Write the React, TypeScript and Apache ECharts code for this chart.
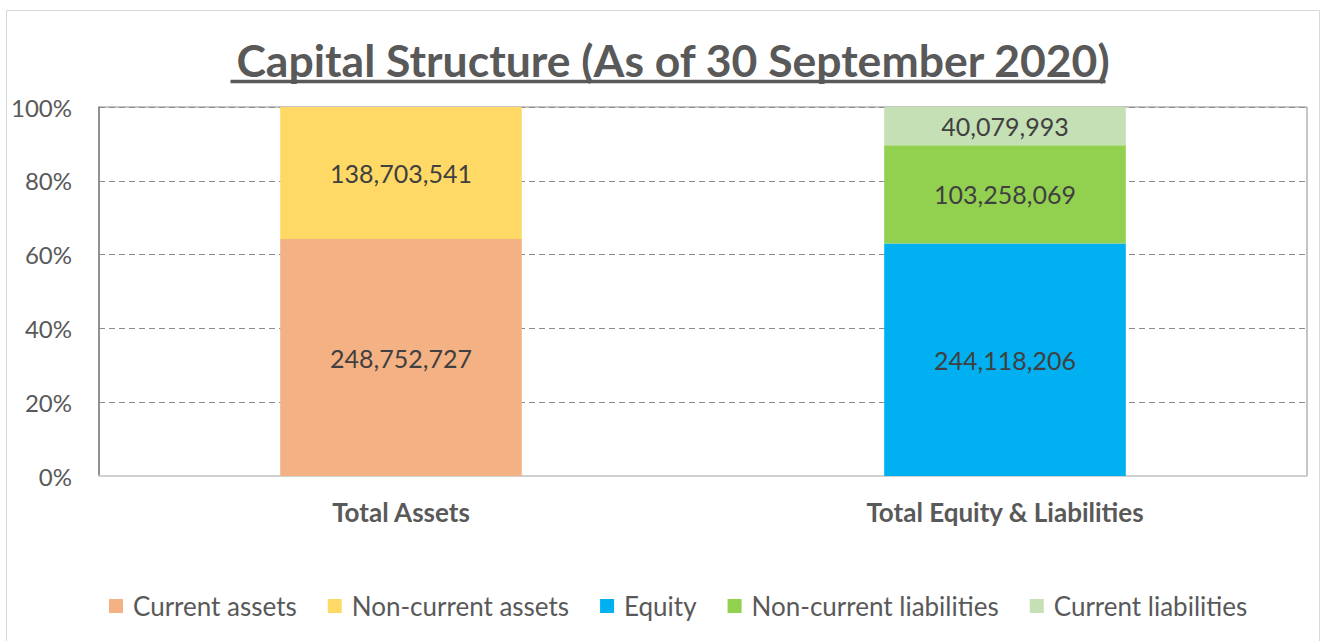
import React, { useEffect, useRef } from "react";
import * as echarts from "echarts";

const categories = ["Total Assets", "Total Equity & Liabilities"];
const seriesNames = [
  "Current assets",
  "Non-current assets",
  "Equity",
  "Non-current liabilities",
  "Current liabilities",
];
// raw values per series: [Total Assets, Total Equity & Liabilities]
const currentAssets = [248752727, null];
const nonCurrentAssets = [138703541, null];
const equity = [null, 244118206];
const nonCurrentLiabilities = [null, 103258069];
const currentLiabilities = [null, 40079993];
const yTicks = [0, 20, 40, 60, 80, 100];
const colors = ["#F4B183", "#FFD966", "#00B0F0", "#92D050", "#C5E0B4"];

const titleText = "Capital Structure (As of 30 September 2020)";
const FONT = "Lato, 'Open Sans', sans-serif";

export default function App() {
  const ref = useRef<HTMLDivElement>(null);
  useEffect(() => {
    document.body.style.margin = "0";
    const el = ref.current!;
    const chart = echarts.init(el, null, { renderer: "svg" });
    const allRaw = [currentAssets, nonCurrentAssets, equity, nonCurrentLiabilities, currentLiabilities];
    const totals = categories.map((_, i) =>
      allRaw.reduce((s, arr) => s + (arr[i] ?? 0), 0)
    );
    const fmt = (v: number) => v.toLocaleString("en-US");

    const titleSize = 44.5;
    const cv = document.createElement("canvas").getContext("2d")!;
    cv.font = `bold ${titleSize}px Lato`;
    const tw = cv.measureText(titleText).width;
    const cx = 668;

    const series = allRaw.map((arr, si) => ({
      name: seriesNames[si],
      type: "bar",
      stack: "total",
      barWidth: "40%",
      itemStyle: { color: colors[si] },
      label: {
        show: true,
        position: "inside",
        color: "#404040",
        fontFamily: FONT,
        fontSize: 25,
        formatter: (p: any) => fmt(arr[p.dataIndex] as number),
      },
      data: arr.map((v, i) => (v == null ? null : (v / totals[i]) * 100)),
    }));

    chart.setOption({
      animation: false,
      backgroundColor: "#ffffff",
      title: {
        text: titleText,
        left: cx,
        textAlign: "center",
        top: 32,
        textStyle: { fontFamily: FONT, fontWeight: "bold", fontSize: titleSize, color: "#595959" },
      },
      graphic: [
        {
          type: "rect",
          shape: { x: 6.5, y: 10.5, width: 1313, height: 640 },
          style: { fill: "none", stroke: "#d9d9d9", lineWidth: 1 },
          silent: true,
          z: -1,
        },
        {
          type: "line",
          shape: { x1: cx - tw / 2, y1: 81.5, x2: cx + tw / 2, y2: 81.5 },
          style: { stroke: "#595959", lineWidth: 3.5 },
        },
      ],
      legend: {
        bottom: 17,
        left: 104,
        itemWidth: 14,
        itemHeight: 14,
        itemGap: 31,
        icon: "rect",
        textStyle: { fontFamily: FONT, fontSize: 26, color: "#595959", padding: [0, 0, 0, 5] },
        data: seriesNames,
      },
      grid: {
        left: 99,
        right: 19,
        top: 107,
        bottom: 165,
        show: true,
        borderColor: "#8c8c8c",
        borderWidth: 1,
      },
      xAxis: {
        type: "category",
        data: categories,
        axisTick: { show: false },
        axisLine: { show: true, lineStyle: { color: "#d0d0d0", width: 2 } },
        axisLabel: {
          margin: 23,
          fontFamily: FONT,
          fontSize: 26,
          fontWeight: "bold",
          color: "#595959",
        },
      },
      yAxis: {
        type: "value",
        min: 0,
        max: 100,
        interval: 20,
        axisLine: { show: true, lineStyle: { color: "#7f7f7f", width: 1.5 } },
        axisTick: { show: false },
        axisLabel: {
          margin: 27,
          fontFamily: FONT,
          fontSize: 24,
          color: "#595959",
          formatter: (v: number) => (yTicks.includes(v) ? `${v}%` : ""),
        },
        splitLine: { show: true, lineStyle: { color: "#8c8c8c", type: [6, 4], width: 1.2 } },
      },
      series,
    });
    return () => chart.dispose();
  }, []);
  return <div ref={ref} style={{ width: 1326, height: 641 }} />;
}
